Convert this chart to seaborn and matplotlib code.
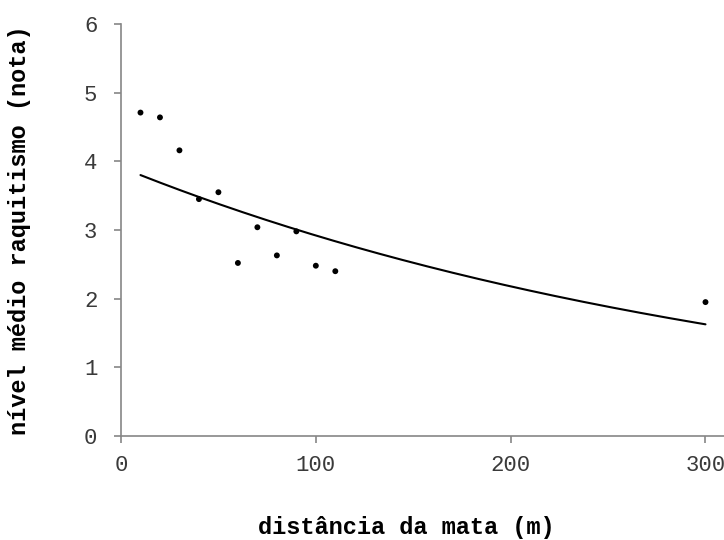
import numpy as np
import pandas as pd
import matplotlib
matplotlib.use("Agg")
import matplotlib.pyplot as plt
import seaborn as sns

# Data
distancia = [10, 20, 30, 40, 50, 60, 70, 80, 90, 100, 110, 300]
nivel = [4.71, 4.64, 4.16, 3.45, 3.55, 2.52, 3.04, 2.63, 2.98, 2.48, 2.40, 1.95]
x_ticks = [0, 100, 200, 300]
y_ticks = [0, 1, 2, 3, 4, 5, 6]

sns.set_theme(style="white")
plt.rcParams['font.family'] = ['Liberation Mono', 'DejaVu Sans Mono']

df = pd.DataFrame({"x": distancia, "y": nivel})

# exponential trendline (least squares on log y, like a spreadsheet trendline)
b, ln_a = np.polyfit(df["x"], np.log(df["y"]), 1)
xs = np.linspace(min(distancia), max(distancia), 200)
trend = pd.DataFrame({"x": xs, "y": np.exp(ln_a) * np.exp(b * xs)})

fig = plt.figure(figsize=(7.24, 5.40), dpi=100)
ax = fig.add_axes([121/724, 104/540, 1 - 121/724, 412/540])

sns.lineplot(data=trend, x="x", y="y", ax=ax, color="black", linewidth=1.5)
sns.scatterplot(data=df, x="x", y="y", ax=ax, color="black", s=18,
                edgecolor="none", zorder=3)

ax.set_xlim(0, 309.5)
ax.set_ylim(0, 6)
ax.set_xticks(x_ticks)
ax.set_yticks(y_ticks)

gray = "#868686"
for side in ["top", "right"]:
    ax.spines[side].set_visible(False)
for side in ["left", "bottom"]:
    ax.spines[side].set_color(gray)
    ax.spines[side].set_linewidth(1.2)

ax.tick_params(axis="both", which="major", direction="out", length=5,
               width=1.2, color=gray, labelsize=16, labelcolor="#3a3a3a",
               left=True, bottom=True)
ax.tick_params(axis="y", pad=12)
ax.tick_params(axis="x", pad=9)

ax.set_xlabel("distância da mata (m)", fontsize=17, fontweight="bold",
              color="black")
ax.set_ylabel("nível médio raquitismo (nota)", fontsize=17,
              fontweight="bold", color="black")
ax.xaxis.label.set_va("center")
ax.yaxis.label.set_va("center")
ax.xaxis.set_label_coords(0.4726, -0.222)
ax.yaxis.set_label_coords(-0.1675, 0.5)

fig.savefig("out.png", dpi=100)
